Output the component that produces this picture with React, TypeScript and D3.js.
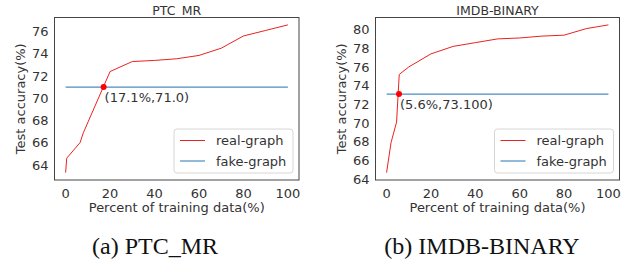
import * as d3 from "d3";

// PTC_MR panel
const ptcX = [0, 0.5, 6.5, 8, 20, 30, 40, 50, 60, 70, 80, 90, 100];
const ptcY = [63.3, 64.6, 66.0, 66.9, 72.4, 73.3, 73.4, 73.55, 73.85, 74.5, 75.6, 76.1, 76.6];
const ptcFake = 71.0;
const ptcCross = [17.1, 71.0];
const ptcYTicks = [64, 66, 68, 70, 72, 74, 76];

// IMDB-BINARY panel
const imdbX = [0, 2, 4.5, 5.7, 10, 20, 30, 40, 50, 60, 70, 80, 90, 100];
const imdbY = [64.7, 67.9, 70.1, 75.2, 76.0, 77.4, 78.2, 78.6, 79.0, 79.1, 79.3, 79.4, 80.1, 80.5];
const imdbFake = 73.1;
const imdbCross = [5.6, 73.1];
const imdbYTicks = [64, 66, 68, 70, 72, 74, 76, 78, 80];

const xTicks = [0, 20, 40, 60, 80, 100];

const SANS = "DejaVu Sans, sans-serif";
const RED = "#e8231f";
const BLUE = "#4a8dc2";
const FS = 13;

interface PanelProps {
  left: number;
  width: number;
  title: string;
  xs: number[];
  ys: number[];
  fake: number;
  cross: number[];
  label: string;
  yTicks: number[];
  caption: string;
  captionX: number;
}

const Panel = ({ left, width, title, xs, ys, fake, cross, label, yTicks, caption, captionX }: PanelProps) => {
  const top = 17.5;
  const bottom = 180;
  const lo = d3.min(ys)!;
  const hi = d3.max(ys)!;
  const pad = (hi - lo) * 0.05;
  const x = d3.scaleLinear().domain([-5, 105]).range([left, left + width]);
  const y = d3.scaleLinear().domain([lo - pad, hi + pad]).range([bottom, top]);
  const pts = xs.map((v, i) => [v, ys[i]] as [number, number]);
  const line = d3
    .line<[number, number]>()
    .x((d) => x(d[0]))
    .y((d) => y(d[1]));
  const cx = left + width / 2;
  const legR = left + width - 6;
  const legW = 119;
  const legB = bottom - 7;
  const legT = legB - 44;

  return (
    <g fontFamily={SANS} fill="#333">
      <text x={cx} y={top - 3} fontSize={12.5} textAnchor="middle">
        {title}
      </text>
      <path d={line(pts) ?? ""} fill="none" stroke={RED} strokeWidth={1} />
      <line x1={x(0)} x2={x(100)} y1={y(fake)} y2={y(fake)} stroke={BLUE} strokeWidth={1.2} />
      <circle cx={x(cross[0])} cy={y(cross[1])} r={3} fill="#ff0000" />
      <text x={x(cross[0]) + 1} y={y(cross[1]) + 15} fontSize={FS}>
        {label}
      </text>
      <rect x={left} y={top} width={width} height={bottom - top} fill="none" stroke="#444" strokeWidth={1} />
      {yTicks.map((t) => (
        <text key={t} x={left - 6} y={y(t) + 4.7} fontSize={FS} textAnchor="end">
          {t}
        </text>
      ))}
      {xTicks.map((t) => (
        <text key={t} x={x(t)} y={197.5} fontSize={FS} textAnchor="middle">
          {t}
        </text>
      ))}
      <text x={cx} y={212} fontSize={FS} textAnchor="middle">
        Percent of training data(%)
      </text>
      <text
        transform={`translate(${left - 30},${(top + bottom) / 2}) rotate(-90)`}
        fontSize={FS}
        textAnchor="middle"
      >
        Test accuracy(%)
      </text>
      <rect x={legR - legW} y={legT} width={legW} height={legB - legT} rx={3} fill="white" stroke="#d6d6d6" />
      <line x1={legR - legW + 6} x2={legR - legW + 31} y1={legT + 11.5} y2={legT + 11.5} stroke={RED} strokeWidth={1} />
      <line x1={legR - legW + 6} x2={legR - legW + 31} y1={legT + 32} y2={legT + 32} stroke={BLUE} strokeWidth={1.2} />
      <text x={legR - legW + 42} y={legT + 16} fontSize={FS}>
        real-graph
      </text>
      <text x={legR - legW + 42} y={legT + 36.5} fontSize={FS}>
        fake-graph
      </text>
      <text
        x={captionX}
        y={254}
        fontSize={24}
        fontFamily="Liberation Serif, Times New Roman, serif"
        fill="#111"
        textAnchor="middle"
      >
        {caption}
      </text>
    </g>
  );
};

const App = () => {
  return (
    <svg
      width={634}
      height={261}
      style={{ position: "absolute", left: 0, top: 0, background: "white" }}
    >
      <Panel
        left={54.5}
        width={244.5}
        title="PTC_MR"
        xs={ptcX}
        ys={ptcY}
        fake={ptcFake}
        cross={ptcCross}
        label="(17.1%,71.0)"
        yTicks={ptcYTicks}
        caption="(a) PTC_MR"
        captionX={155}
      />
      <Panel
        left={375.5}
        width={244}
        title="IMDB-BINARY"
        xs={imdbX}
        ys={imdbY}
        fake={imdbFake}
        cross={imdbCross}
        label="(5.6%,73.100)"
        yTicks={imdbYTicks}
        caption="(b) IMDB-BINARY"
        captionX={482}
      />
    </svg>
  );
};

export default App;
